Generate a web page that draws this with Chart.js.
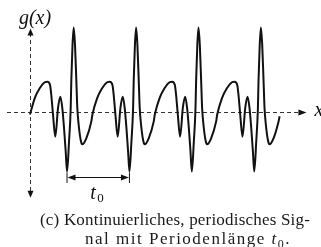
<!DOCTYPE html>
<html>
<head>
<meta charset="utf-8">
<script src="https://cdn.jsdelivr.net/npm/chart.js@4/dist/chart.umd.min.js"></script>
<style>
  body { margin: 0; background: #fff; }
  #wrap { position: relative; width: 321px; height: 247px; overflow: hidden; }
  #sig { position: absolute; left: 0; top: 0; }
  .cap { position: absolute; font-family: "Liberation Serif", serif; font-size: 17px; line-height: 19px; color: #1a1a1a; white-space: nowrap; }
  .cap i sub { font-style: normal; font-size: 12px; }
</style>
</head>
<body>
<div id="wrap">
  <canvas id="sig" width="321" height="247"></canvas>
  <div class="cap" id="cap1" data-w="270" style="left:40px; top:210px;">(c) Kontinuierliches, periodisches Sig-</div>
  <div class="cap" id="cap2" data-w="206" style="left:85px; top:229px;">nal mit Periodenlänge <i>t<sub>0</sub></i>.</div>
</div>
<script>
// one period of the signal, x in units of t0, y scaled so the tall peak is ~1
var phase = [0, 0.075, 0.155, 0.236, 0.280, 0.321, 0.341, 0.369, 0.405, 0.449, 0.486, 0.518, 0.545, 0.572, 0.593, 0.625, 0.652, 0.662, 0.681, 0.700, 0.721, 0.742, 0.758, 0.780, 0.812, 0.838, 0.902, 0.982];
var level = [-0.03, 0.163, 0.282, 0.354, 0.361, 0.321, 0.202, -0.036, -0.294, 0.048, 0.182, 0.044, -0.190, -0.473, -0.708, -0.354, 0.048, 0.381, 0.798, 1.006, 0.798, 0.381, 0.048, -0.155, -0.333, -0.385, -0.313, -0.115];
var periods = 4;
var endLevel = -0.05;

var axisLabels = { y: "g(x)", x: "x", period: "t" };

// data frame
var xMin = -0.481, xMax = 4.663;
var yMin = -1.607, yMax = 1.333;

var points = [];
for (var k = 0; k < periods; k++) {
  for (var i = 0; i < phase.length; i++) {
    points.push({ x: k + phase[i], y: level[i] });
  }
}
points.push({ x: periods, y: endLevel });

// deep minimum of the period, used for the t0 dimension
var minIdx = 0;
for (var j = 1; j < level.length; j++) if (level[j] < level[minIdx]) minIdx = j;

function arrowHead(ctx, tx, ty, dx, dy, len, half) {
  var px = -dy, py = dx;
  ctx.beginPath();
  ctx.moveTo(tx, ty);
  ctx.lineTo(tx - dx * len + px * half, ty - dy * len + py * half);
  ctx.lineTo(tx - dx * len - px * half, ty - dy * len - py * half);
  ctx.closePath();
  ctx.fill();
}

var axesPlugin = {
  id: "axes",
  beforeDatasetsDraw: function (chart) {
    var ctx = chart.ctx, xs = chart.scales.x, ys = chart.scales.y;
    var x0 = Math.round(xs.getPixelForValue(0)) + 0.5;
    var y0 = Math.round(ys.getPixelForValue(0)) + 0.5;
    ctx.save();
    ctx.strokeStyle = "#333";
    ctx.fillStyle = "#111";
    ctx.lineWidth = 1;
    ctx.setLineDash([4, 3]);
    // horizontal axis
    ctx.beginPath();
    ctx.moveTo(7, y0);
    ctx.lineTo(xs.getPixelForValue(4.325), y0);
    ctx.stroke();
    // vertical axis
    ctx.beginPath();
    ctx.moveTo(x0, ys.getPixelForValue(0.94));
    ctx.lineTo(x0, ys.getPixelForValue(-0.95));
    ctx.stroke();
    ctx.setLineDash([]);
    arrowHead(ctx, xs.getPixelForValue(4.43), y0, 1, 0, 8, 3);
    arrowHead(ctx, x0, ys.getPixelForValue(0.995), 0, -1, 7, 3);
    arrowHead(ctx, x0, ys.getPixelForValue(-1.02), 0, 1, 7, 3);
    ctx.restore();
  },
  afterDraw: function (chart) {
    var ctx = chart.ctx, xs = chart.scales.x, ys = chart.scales.y;
    ctx.save();
    ctx.fillStyle = "#111";
    ctx.strokeStyle = "#111";
    // t0 dimension
    var xa = xs.getPixelForValue(phase[minIdx]);
    var xb = xs.getPixelForValue(1 + phase[minIdx]);
    var yd = Math.round(ys.getPixelForValue(-0.774)) + 0.5;
    ctx.lineWidth = 1;
    ctx.beginPath();
    ctx.moveTo(xa, ys.getPixelForValue(-0.72));
    ctx.lineTo(xa, ys.getPixelForValue(-0.845));
    ctx.moveTo(xb, ys.getPixelForValue(-0.72));
    ctx.lineTo(xb, ys.getPixelForValue(-0.845));
    ctx.moveTo(xa + 4, yd);
    ctx.lineTo(xb - 4, yd);
    ctx.stroke();
    arrowHead(ctx, xa + 0.5, yd, -1, 0, 8, 3);
    arrowHead(ctx, xb - 0.5, yd, 1, 0, 8, 3);

    ctx.textBaseline = "alphabetic";
    ctx.font = "italic 20px 'Liberation Serif', serif";
    ctx.textAlign = "center";
    ctx.fillText(axisLabels.y, xs.getPixelForValue(0.08), 24);
    ctx.textAlign = "left";
    ctx.fillText(axisLabels.x, xs.getPixelForValue(4.56), ys.getPixelForValue(0) + 4);
    // t0 label
    var tc = (xa + xb) / 2;
    ctx.font = "italic 20px 'Liberation Serif', serif";
    ctx.fillText(axisLabels.period, tc - 8, 199);
    ctx.font = "13px 'Liberation Serif', serif";
    ctx.fillText("0", tc - 1, 202);
    ctx.restore();
  }
};

new Chart(document.getElementById("sig"), {
  type: "line",
  data: {
    datasets: [{
      data: points,
      borderColor: "#111",
      borderWidth: 2,
      pointRadius: 0,
      fill: false,
      cubicInterpolationMode: "monotone"
    }]
  },
  options: {
    responsive: false,
    animation: false,
    layout: { padding: 0 },
    plugins: { legend: { display: false }, tooltip: { enabled: false } },
    scales: {
      x: { type: "linear", min: xMin, max: xMax, display: false },
      y: { type: "linear", min: yMin, max: yMax, display: false }
    }
  },
  plugins: [axesPlugin]
});

// stretch caption lines to the widths they have in the figure
document.querySelectorAll(".cap").forEach(function (el) {
  var target = +el.getAttribute("data-w");
  var w = el.getBoundingClientRect().width;
  var n = el.textContent.length;
  el.style.letterSpacing = ((target - w) / n) + "px";
});
</script>
</body>
</html>
